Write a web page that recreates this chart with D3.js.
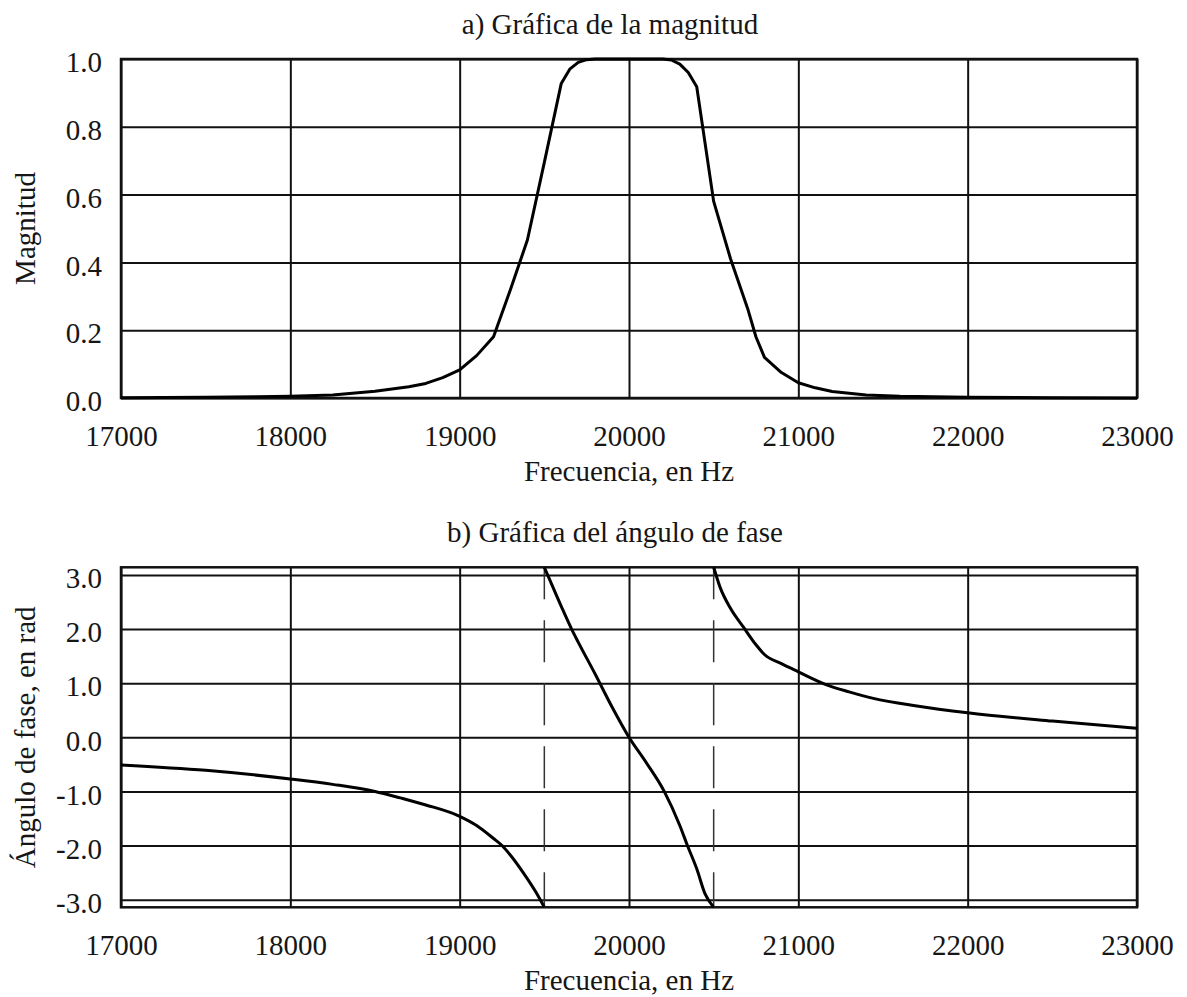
<!DOCTYPE html>
<html>
<head>
<meta charset="utf-8">
<script src="https://cdn.jsdelivr.net/npm/d3@7"></script>
<style>
  html, body { margin: 0; padding: 0; background: #fff; }
  svg { display: block; }
  text { font-family: "Liberation Serif", "Times New Roman", serif; fill: #161616; }
</style>
</head>
<body>
<div id="chart"></div>
<script>
// Frequency ticks shared by both panels
const freqTicks = [17000, 18000, 19000, 20000, 21000, 22000, 23000];
const magTicks = [0, 0.2, 0.4, 0.6, 0.8, 1.0];
const phaseTicks = [-3, -2, -1, 0, 1, 2, 3];

// a) magnitude
const magFreq = [17000, 17500, 17800, 18000, 18250, 18500, 18700, 18800, 18900, 19000,
  19100, 19200, 19300, 19400, 19500, 19600, 19650, 19700, 19750, 19800,
  20000, 20200, 20250, 20300, 20350, 20400, 20500, 20600, 20700, 20750,
  20800, 20900, 21000, 21100, 21200, 21400, 21600, 22000, 22500, 23000];
const magValue = [0.001, 0.002, 0.004, 0.005, 0.009, 0.02, 0.033, 0.043, 0.06, 0.083,
  0.125, 0.181, 0.32, 0.466, 0.695, 0.928, 0.97, 0.99, 0.998, 1.0,
  1.0, 1.0, 0.997, 0.985, 0.96, 0.918, 0.58, 0.41, 0.265, 0.18,
  0.12, 0.075, 0.045, 0.03, 0.019, 0.009, 0.005, 0.002, 0.001, 0.0];

// b) phase angle, three branches (wraps at +-pi)
const phaseLeftFreq = [17000, 17500, 18000, 18250, 18500, 18650, 18800, 19000, 19100, 19200,
  19250, 19300, 19375, 19450, 19500];
const phaseLeftValue = [-0.51, -0.61, -0.77, -0.87, -1.0, -1.12, -1.25, -1.46, -1.63, -1.87,
  -2.0, -2.18, -2.5, -2.86, -Math.PI];
const phaseMidFreq = [19500, 19550, 19600, 19661, 19700, 19800, 19900, 20000, 20100, 20208,
  20300, 20345, 20400, 20450, 20500];
const phaseMidValue = [Math.PI, 2.78, 2.42, 2.0, 1.76, 1.17, 0.56, 0.0, -0.46, -1.0,
  -1.63, -2.0, -2.43, -2.9, -Math.PI];
const phaseRightFreq = [20500, 20537, 20600, 20675, 20750, 20800, 20900, 21000, 21167, 21300,
  21443, 21700, 22000, 22500, 23000];
const phaseRightValue = [Math.PI, 2.78, 2.38, 2.04, 1.71, 1.53, 1.36, 1.21, 0.97, 0.84,
  0.72, 0.58, 0.455, 0.3, 0.166];
const wrapFreqs = [19500, 20500];

const W = 1187, H = 997;
const left = 121, right = 1137;

const svg = d3.select('#chart').append('svg')
  .attr('width', W)
  .attr('height', H);

const x = d3.scaleLinear().domain([17000, 23000]).range([left, right]);

function zip(fs, vs) {
  return fs.map((f, i) => ({ f: f, v: vs[i] }));
}

function drawPanel(opts) {
  const y = d3.scaleLinear().domain(opts.domain).range([opts.bottom, opts.top]);
  const g = svg.append('g');
  const h = opts.bottom - opts.top;

  // vertical grid + tick labels
  const xAxis = g.append('g')
    .attr('transform', `translate(0,${opts.bottom})`)
    .call(d3.axisBottom(x).tickValues(freqTicks).tickSizeInner(-h).tickSizeOuter(0).tickFormat(d3.format('d')));
  xAxis.select('.domain').remove();
  xAxis.selectAll('line').attr('stroke', '#111').attr('stroke-width', 2);
  xAxis.selectAll('text')
    .attr('y', 48).attr('dy', 0)
    .style('font-size', '29px');

  // horizontal grid + tick labels
  const yAxis = g.append('g')
    .attr('transform', `translate(${left},0)`)
    .call(d3.axisLeft(y).tickValues(opts.ticks).tickSizeInner(-(right - left)).tickSizeOuter(0)
      .tickPadding(19).tickFormat(d => d.toFixed(1)));
  yAxis.select('.domain').remove();
  yAxis.selectAll('line').attr('stroke', '#111').attr('stroke-width', 2);
  yAxis.selectAll('text')
    .attr('dy', '0.44em')
    .style('font-size', '29px');

  // frame
  g.append('rect')
    .attr('x', left).attr('y', opts.top)
    .attr('width', right - left).attr('height', h)
    .attr('fill', 'none').attr('stroke', '#111').attr('stroke-width', 2.5);

  // titles
  g.append('text')
    .attr('x', opts.titleX).attr('y', opts.top - 25)
    .attr('text-anchor', 'middle')
    .style('font-size', '29px')
    .text(opts.title);

  g.append('text')
    .attr('x', (left + right) / 2).attr('y', opts.bottom + 83)
    .attr('text-anchor', 'middle')
    .style('font-size', '29px')
    .text('Frecuencia, en Hz');

  g.append('text')
    .attr('transform', `translate(35,${(opts.top + opts.bottom) / 2}) rotate(-90)`)
    .attr('text-anchor', 'middle')
    .style('font-size', '29px')
    .text(opts.ylabel);

  return { g, y };
}

// a) magnitude
const magPanel = drawPanel({
  top: 59, bottom: 398, domain: [0, 1], ticks: magTicks,
  title: 'a) Gráfica de la magnitud', titleX: 610, ylabel: 'Magnitud'
});

const magLine = d3.line()
  .x(d => x(d.f))
  .y(d => magPanel.y(d.v));

magPanel.g.append('path')
  .datum(zip(magFreq, magValue))
  .attr('d', magLine)
  .attr('fill', 'none')
  .attr('stroke', '#000')
  .attr('stroke-width', 3)
  .attr('stroke-linejoin', 'round');

// b) phase
const phasePanel = drawPanel({
  top: 567.3, bottom: 907.3, domain: [-Math.PI, Math.PI], ticks: phaseTicks,
  title: 'b) Gráfica del ángulo de fase', titleX: 615, ylabel: 'Ángulo de fase, en rad'
});

// dashed markers where the phase wraps
phasePanel.g.selectAll('.wrap')
  .data(wrapFreqs)
  .enter().append('line')
  .attr('class', 'wrap')
  .attr('x1', d => x(d)).attr('x2', d => x(d))
  .attr('y1', phasePanel.y(Math.PI)).attr('y2', phasePanel.y(-Math.PI))
  .attr('stroke', '#333')
  .attr('stroke-width', 1.5)
  .attr('stroke-dasharray', '42,21')
  .attr('stroke-dashoffset', 10);

const phaseLine = d3.line()
  .x(d => x(d.f))
  .y(d => phasePanel.y(d.v))
  .curve(d3.curveMonotoneX);

const branches = [
  zip(phaseLeftFreq, phaseLeftValue),
  zip(phaseMidFreq, phaseMidValue),
  zip(phaseRightFreq, phaseRightValue)
];

phasePanel.g.selectAll('.phase')
  .data(branches)
  .enter().append('path')
  .attr('class', 'phase')
  .attr('d', phaseLine)
  .attr('fill', 'none')
  .attr('stroke', '#000')
  .attr('stroke-width', 3);
</script>
</body>
</html>
